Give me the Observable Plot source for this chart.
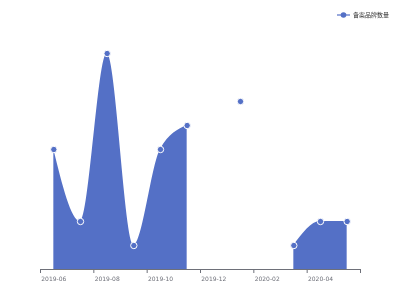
<!DOCTYPE html>
<html>
<head>
<meta charset="utf-8">
<script src="https://cdn.jsdelivr.net/npm/d3@7"></script>
<script src="https://cdn.jsdelivr.net/npm/@observablehq/plot@0.6"></script>
<style>
  html, body { margin: 0; padding: 0; background: #fff; }
  #wrap { position: relative; width: 400px; height: 300px; font-family: "Noto Sans CJK SC", "DejaVu Sans", sans-serif; }
  #legend { position: absolute; z-index: 2; top: 10px; left: 337px; display: flex; align-items: center; font-size: 6px; color: #333; background: #fff; }
  #legend svg { margin-right: 3px; }
  #chart svg, #legend { will-change: transform; }
</style>
</head>
<body>
<div id="wrap">
  <div id="legend">
    <svg width="13" height="8"><line x1="0" x2="13" y1="4" y2="4" stroke="#5470c6" stroke-width="1.2"/><circle cx="6.5" cy="4" r="2.8" fill="#5470c6"/></svg>
    <span id="legendLabel"></span>
  </div>
  <div id="chart"></div>
</div>
<script>
const seriesName = "备案品牌数量";
const months = ["2019-06","2019-07","2019-08","2019-09","2019-10","2019-11","2019-12","2020-01","2020-02","2020-03","2020-04","2020-05"];
const values = [5, 2, 9, 1, 5, 6, null, 7, null, 1, 2, 2];
const labelMonths = ["2019-06","2019-08","2019-10","2019-12","2020-02","2020-04"];

document.getElementById("legendLabel").textContent = seriesName;

const data = months.map((m, i) => ({i, month: m, value: values[i]}));
const pts = data.filter(d => d.value != null);
const labelIdx = labelMonths.map(m => months.indexOf(m));
const boundaryTicks = labelIdx.map(i => i - 0.5).concat([months.length - 0.5]);

const color = "#5470c6";
const axisColor = "#6e7079";
const chart = Plot.plot({
  width: 400,
  height: 300,
  marginLeft: 40,
  marginRight: 40,
  marginTop: 29,
  marginBottom: 31,
  style: {fontFamily: "DejaVu Sans, sans-serif", fontSize: "6px", background: "#fff", color: axisColor},
  x: {type: "linear", domain: [-0.5, months.length - 0.5]},
  y: {domain: [0, 10], axis: null},
  marks: [
    Plot.areaY(data, {x: "i", y1: 0, y2: "value", curve: "monotone-x", fill: color, fillOpacity: 1}),
    Plot.ruleY([0], {stroke: axisColor, strokeWidth: 1}),
    Plot.axisX({ticks: boundaryTicks, tickFormat: () => "", tickSize: 4, color: axisColor, label: null}),
    Plot.axisX({ticks: labelIdx, tickFormat: i => months[i], tickSize: 0, tickPadding: 7, color: axisColor, label: null}),
    Plot.dot(pts, {x: "i", y: "value", r: 3.2, fill: color, stroke: "#fff", strokeWidth: 1})
  ]
});
document.getElementById("chart").appendChild(chart);
</script>
</body>
</html>
